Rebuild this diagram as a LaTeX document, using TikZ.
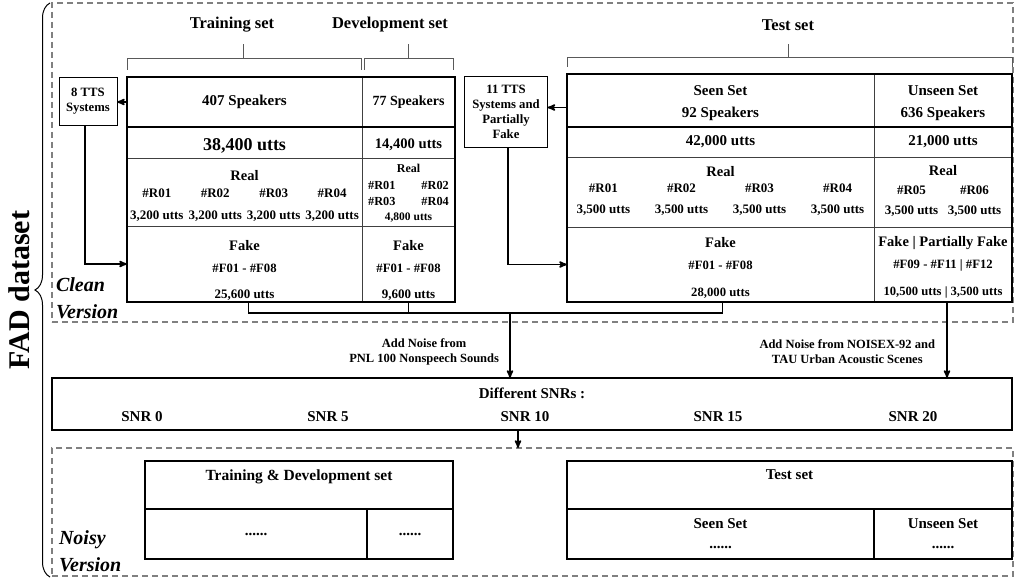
\documentclass[tikz,border=0pt]{standalone}
\usepackage{fontspec}
\setmainfont{Liberation Serif}
\usetikzlibrary{arrows, positioning, decorations.pathreplacing}

\newcommand{\fsz}[2]{\fontsize{#1}{#2}\selectfont}
\newcommand{\lift}[1]{\rule{0pt}{#1pt}}

\begin{document}
\begin{tikzpicture}[x=1pt, y=-1pt, >=stealth',
    node distance=0pt,
    every node/.style={inner sep=0pt, outer sep=0pt, align=center,
                       font=\bfseries\fsz{15}{18}},
    title/.style={font=\bfseries\fsz{16.5}{19}},
    small/.style={font=\bfseries\fsz{12.5}{15}},
    version/.style={font=\bfseries\itshape\fsz{20}{27}, align=left, anchor=west},
    tcell/.style={rectangle, minimum width=#1},
    frame/.style={draw=gray, dashed, dash pattern=on 6pt off 4pt, line width=1.1pt},
    sysbox/.style={draw, line width=0.9pt, font=\bfseries\fsz{12.7}{15}},
    boxline/.style={line width=2pt},
    midline/.style={line width=1.4pt},
    thinline/.style={line width=0.8pt, draw=black!75},
    brk/.style={line width=0.9pt, draw=black!65},
    conn/.style={line width=1.6pt}]

  % Dashed frames and the brace
  \useasboundingbox (0,0) rectangle (1015,578);
  \node[frame, minimum width=961pt, minimum height=319pt, anchor=north west] (cleanfr) at (52,3) {};
  \node[frame, minimum width=961pt, minimum height=128pt, anchor=north west] (noisyfr) at (52,448) {};
  \draw[line width=1pt, decorate, decoration={brace, amplitude=15pt}] (50,577) -- (50,3);
  \node[rotate=90, anchor=south, font=\bfseries\fsz{30}{34}] (fad) at (30,290) {FAD dataset};

  \node[version] (cleanlbl) at (56,298) {Clean\\Version};
  \node[version] (noisylbl) at (59,551) {Noisy\\Version};

  % Training / development table
  \node[tcell=235pt, minimum height=50pt, anchor=north west] (trspk) at (127,77) {407 Speakers};
  \node[tcell=235pt, minimum height=31pt, below=of trspk, font=\bfseries\fsz{18}{20}] (trutt) {\lift{18}38,400 utts};
  \node[tcell=235pt, minimum height=68pt, below=of trutt] (trreal)
       {\fsz{14.5}{17}\lift{20}Real\\[-1pt]
        \fsz{13}{15}\setlength{\tabcolsep}{2.5pt}%
        \begin{tabular}[t]{@{}cccc@{}}\#R01&\#R02&\#R03&\#R04\\[7pt]
        3,200 utts&3,200 utts&3,200 utts&3,200 utts\end{tabular}};
  \node[tcell=235pt, minimum height=76pt, below=of trreal] (trfake)
       {\fsz{14.5}{17}\lift{24}Fake\\[4pt]\fsz{12.7}{15}\#F01 - \#F08\\[8pt]\fsz{13}{15}25,600 utts};

  \node[tcell=93pt, minimum height=50pt, right=of trspk, font=\bfseries\fsz{14}{17}] (dvspk) {77 Speakers};
  \node[tcell=93pt, minimum height=31pt, below=of dvspk, font=\bfseries\fsz{14.6}{17}] (dvutt) {\lift{14}14,400 utts};
  \node[tcell=93pt, minimum height=68pt, below=of dvutt] (dvreal)
       {\fsz{12}{14}\lift{14}Real\\[-1pt]
        \fsz{12.3}{14}\setlength{\tabcolsep}{13pt}%
        \begin{tabular}[t]{@{}cc@{}}\#R01&\#R02\\[2pt]\#R03&\#R04\\[1pt]
        \multicolumn{2}{c}{\fsz{11.5}{14}4,800 utts}\end{tabular}};
  \node[tcell=93pt, minimum height=76pt, below=of dvreal] (dvfake)
       {\fsz{14.5}{17}\lift{24}Fake\\[4pt]\fsz{12.7}{15}\#F01 - \#F08\\[8pt]\fsz{13}{15}9,600 utts};

  \draw[thinline] (trutt.south west) -- (dvutt.south east);
  \draw[thinline] (trreal.south west) -- (dvreal.south east);
  \draw[thinline] (trspk.north east) -- (trfake.south east);
  \draw[midline] (trspk.south west) -- (dvspk.south east);
  \draw[boxline] (trspk.north west) rectangle (dvfake.south east);

  % Test table
  \node[tcell=307pt, minimum height=53pt, anchor=north west] (tsspk) at (567,74) {\lift{16}Seen Set\\[4pt]92 Speakers};
  \node[tcell=307pt, minimum height=30pt, below=of tsspk] (tsutt) {42,000 utts};
  \node[tcell=307pt, minimum height=70pt, below=of tsutt] (tsreal)
       {\fsz{14.5}{17}Real\\[-2pt]
        \fsz{13}{15}\setlength{\tabcolsep}{12.3pt}%
        \begin{tabular}[t]{@{}cccc@{}}\#R01&\#R02&\#R03&\#R04\\[6pt]
        3,500 utts&3,500 utts&3,500 utts&3,500 utts\end{tabular}};
  \node[tcell=307pt, minimum height=75pt, below=of tsreal] (tsfake)
       {\fsz{14.5}{17}\lift{16}Fake\\[4pt]\fsz{12.7}{15}\#F01 - \#F08\\[9pt]\fsz{12.7}{15}28,000 utts};

  \node[tcell=138pt, minimum height=53pt, right=of tsspk] (tsuspk) {\lift{16}Unseen Set\\[4pt]636 Speakers};
  \node[tcell=138pt, minimum height=30pt, below=of tsuspk] (tsuutt) {21,000 utts};
  \node[tcell=138pt, minimum height=70pt, below=of tsuutt] (tsureal)
       {\fsz{14.5}{17}Real\\[1pt]
        \fsz{13}{15}\setlength{\tabcolsep}{4.8pt}%
        \begin{tabular}[t]{@{}cc@{}}\#R05&\#R06\\[5pt]
        3,500 utts&3,500 utts\end{tabular}};
  \node[tcell=138pt, minimum height=75pt, below=of tsureal] (tsufake)
       {\fsz{14.5}{17}\lift{16}Fake | Partially Fake\\[4pt]\fsz{12.7}{15}\#F09 - \#F11 | \#F12\\[9pt]\fsz{12.6}{15}10,500 utts | 3,500 utts};

  \draw[thinline] (tsutt.south west) -- (tsuutt.south east);
  \draw[thinline] (tsreal.south west) -- (tsureal.south east);
  \draw[thinline] (tsspk.north east) -- (tsfake.south east);
  \draw[midline] (tsspk.south west) -- (tsuspk.south east);
  \draw[boxline] (tsspk.north west) rectangle (tsufake.south east);

  % Set titles with their brackets
  \node[title] (trtitle) at (232,25) {Training set};
  \node[title] (dvtitle) at (390,25) {Development set};
  \node[title] (tstitle) at (788,25) {Test set};
  \draw[brk] (127,70) |- (361,58) -- (361,70);
  \draw[brk] (243,58) -- (243,44);
  \draw[brk] (364,70) |- (453,58) -- (453,70);
  \draw[brk] (408,58) -- (408,44);
  \draw[brk] (567,67) |- (1012,57) -- (1012,67);
  \draw[brk] (788,57) -- (788,44);

  % TTS system boxes
  \node[sysbox, minimum width=58pt, minimum height=48pt] (tts8) at (88,101) {8 TTS\\Systems};
  \node[sysbox, minimum width=83pt, minimum height=71pt] (tts11) at (506,112) {11 TTS\\Systems and\\Partially\\Fake};

  \draw[->, conn] (trspk.west) -- (trspk.west -| tts8.east);
  \draw[->, conn] ([xshift=-3pt]tts8.south) |- (trfake.west);
  \draw[->, conn] ([yshift=-7pt]tsspk.west) -- ([yshift=-7pt]tsspk.west -| tts11.east);
  \draw[->, conn] ([xshift=2pt]tts11.south) |- (tsfake.west);

  % Noise and SNR box
  \node[draw, line width=1.5pt, minimum width=960pt, minimum height=52pt, anchor=north west] (snrbox) at (52,378) {};
  \node[below=10pt of snrbox.north] (snrtitle) {Different SNRs :};
  \foreach \v/\x in {0/142, 5/328, 10/525, 15/718, 20/913}
    \node (snr\v) at (\x,417) {SNR \v};

  \coordinate (jn) at (510,313);
  \draw[conn] ([xshift=4pt]trfake.south) |- (jn) -| ([xshift=2pt]tsfake.south);
  \draw[conn] (dvfake.south) -- (dvfake.south |- jn);
  \draw[->, conn] (jn) -- node[small, pos=0.6, left=11pt] (noise1) {Add Noise from\\PNL 100 Nonspeech Sounds} (jn |- snrbox.north);
  \draw[->, conn] ([xshift=4pt]tsufake.south) -- node[small, pos=0.66, left=12pt] (noise2) {Add Noise from NOISEX-92 and\\TAU Urban Acoustic Scenes} ([xshift=4pt]tsufake.south |- snrbox.north);
  \draw[->, conn] ([xshift=-14pt]snrbox.south) -- ([xshift=-14pt]snrbox.south |- noisyfr.north);

  % Noisy version boxes
  \node[tcell=308pt, minimum height=48pt, anchor=north west] (tdtop) at (145,461) {};
  \node[below=9pt of tdtop.north, font=\bfseries\fsz{15.5}{18}] (tdtitle) {Training \& Development set};
  \node[tcell=222pt, minimum height=50pt, anchor=north west] (tdleft) at (tdtop.south west) {......};
  \node[tcell=86pt, minimum height=50pt, anchor=north west] (tdright) at (tdleft.north east) {......};
  \draw[midline] (tdtop.south west) -- (tdtop.south east);
  \draw[midline] (tdleft.north east) -- (tdleft.south east);
  \draw[boxline] (tdtop.north west) rectangle (tdright.south east);

  \node[tcell=445pt, minimum height=48pt, anchor=north west] (tttop) at (567,461) {};
  \node[below=9pt of tttop.north] (tttitle) {Test set};
  \node[tcell=307pt, minimum height=50pt, anchor=north west] (ttleft) at (tttop.south west) {Seen Set\\[2pt]......};
  \node[tcell=138pt, minimum height=50pt, anchor=north west] (ttright) at (ttleft.north east) {Unseen Set\\[2pt]......};
  \draw[midline] (tttop.south west) -- (tttop.south east);
  \draw[midline] (ttleft.north east) -- (ttleft.south east);
  \draw[boxline] (tttop.north west) rectangle (ttright.south east);

\end{tikzpicture}
\end{document}
